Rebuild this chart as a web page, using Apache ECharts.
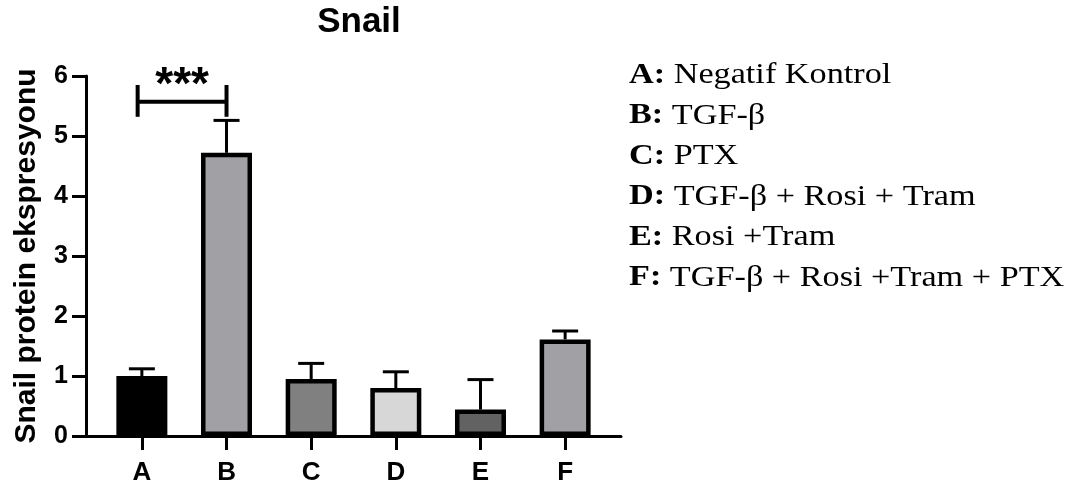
<!DOCTYPE html>
<html>
<head>
<meta charset="utf-8">
<script src="https://cdn.jsdelivr.net/npm/echarts@6/dist/echarts.min.js"></script>
<style>
html,body{margin:0;padding:0;background:#fff;}
#chart{width:1079px;height:488px;}
</style>
</head>
<body>
<div id="chart"></div>
<script>
// ---- data ----
var categories = ['A', 'B', 'C', 'D', 'E', 'F'];
var means = [1.0, 4.72, 0.95, 0.80, 0.44, 1.61];
var errUpper = [1.12, 5.26, 1.21, 1.07, 0.94, 1.75];
var barColors = ['#000000', '#a1a1a5', '#808080', '#d7d7d7', '#626262', '#a1a1a5'];
var yTicks = [0, 1, 2, 3, 4, 5, 6];
var bracket = { from: -0.05, to: 1.0, y: 5.57, top: 5.85, bottom: 5.32, label: '***', labelY: 5.93 };
var legendKeys = ['A:', 'B:', 'C:', 'D:', 'E:', 'F:'];
var legendTexts = ['Negatif Kontrol', 'TGF-\u03b2', 'PTX', 'TGF-\u03b2 + Rosi + Tram', 'Rosi +Tram', 'TGF-\u03b2 + Rosi +Tram + PTX'];

var chart = echarts.init(document.getElementById('chart'), null, { renderer: 'canvas' });
var idx = categories.map(function (c, i) { return i; });

var serif = '"Liberation Serif", "Times New Roman", serif';
var legendGraphics = legendKeys.map(function (k, i) {
  return {
    type: 'text',
    x: 629,
    y: 61 + 40.5 * i,
    scaleX: 1.18,
    style: {
      text: '{b|' + k + '} ' + legendTexts[i],
      font: '29px ' + serif,
      fill: '#000',
      verticalAlign: 'top',
      rich: {
        b: { font: 'bold 29px ' + serif, fill: '#000' }
      }
    }
  };
});

var sans = '"Liberation Sans", Arial, sans-serif';
var option = {
  backgroundColor: '#ffffff',
  animation: false,
  title: {
    text: 'Snail',
    left: 354,
    textAlign: 'center',
    top: 0,
    textStyle: { fontFamily: sans, fontWeight: 'bold', fontSize: 35, color: '#000' }
  },
  grid: { left: 86, right: 458, top: 76, bottom: 52, containLabel: false },
  xAxis: {
    type: 'value',
    min: -0.66,
    max: 5.66,
    splitLine: { show: false },
    axisLine: { show: true, onZero: false, lineStyle: { color: '#000', width: 3 } },
    axisTick: { show: true, length: 14, customValues: idx, lineStyle: { color: '#000', width: 3 } },
    axisLabel: {
      customValues: idx,
      margin: 24,
      formatter: function (v) { return categories[Math.round(v)]; },
      fontFamily: sans, fontWeight: 'bold', fontSize: 26, color: '#000'
    }
  },
  yAxis: {
    type: 'value',
    min: 0,
    max: 6,
    interval: 1,
    name: 'Snail protein ekspresyonu',
    nameLocation: 'middle',
    nameRotate: 90,
    nameGap: 44,
    nameTextStyle: { fontFamily: sans, fontWeight: 'bold', fontSize: 30, color: '#000' },
    splitLine: { show: false },
    axisLine: { show: true, onZero: false, lineStyle: { color: '#000', width: 3 } },
    axisTick: { show: true, length: 14, lineStyle: { color: '#000', width: 3 } },
    axisLabel: {
      margin: 18,
      formatter: function (v) { return yTicks.indexOf(v) >= 0 ? String(v) : ''; },
      fontFamily: sans, fontWeight: 'bold', fontSize: 25, color: '#000'
    }
  },
  series: [
    {
      type: 'custom',
      name: 'error',
      z: 1,
      data: idx.map(function (i) { return [i, means[i], errUpper[i]]; }),
      renderItem: function (params, api) {
        var x = api.value(0);
        var p0 = api.coord([x, api.value(1)]);
        var p1 = api.coord([x, api.value(2)]);
        var half = 13;
        return {
          type: 'group',
          children: [
            { type: 'line', shape: { x1: p0[0], y1: p0[1], x2: p1[0], y2: p1[1] }, style: { stroke: '#000', lineWidth: 3 } },
            { type: 'line', shape: { x1: p1[0] - half, y1: p1[1], x2: p1[0] + half, y2: p1[1] }, style: { stroke: '#000', lineWidth: 3 } }
          ]
        };
      }
    },
    {
      type: 'bar',
      name: 'mean',
      z: 2,
      barWidth: 51,
      data: idx.map(function (i) {
        return { value: [i, means[i]], itemStyle: { color: barColors[i], borderColor: '#000', borderWidth: 4.5 } };
      })
    },
    {
      type: 'custom',
      name: 'sig',
      z: 3,
      clip: false,
      data: [[bracket.from, bracket.to, bracket.y, bracket.top, bracket.bottom, bracket.labelY]],
      renderItem: function (params, api) {
        var a = api.coord([api.value(0), api.value(2)]);
        var b = api.coord([api.value(1), api.value(2)]);
        var at = api.coord([api.value(0), api.value(3)]);
        var ab = api.coord([api.value(0), api.value(4)]);
        var bt = api.coord([api.value(1), api.value(3)]);
        var bb = api.coord([api.value(1), api.value(4)]);
        var lab = api.coord([(api.value(0) + api.value(1)) / 2, api.value(5)]);
        return {
          type: 'group',
          children: [
            { type: 'line', shape: { x1: a[0], y1: a[1], x2: b[0], y2: b[1] }, style: { stroke: '#000', lineWidth: 4 } },
            { type: 'line', shape: { x1: at[0], y1: at[1], x2: ab[0], y2: ab[1] }, style: { stroke: '#000', lineWidth: 4 } },
            { type: 'line', shape: { x1: bt[0], y1: bt[1], x2: bb[0], y2: bb[1] }, style: { stroke: '#000', lineWidth: 4 } },
            { type: 'text', x: lab[0], y: lab[1] + 6, style: { text: bracket.label, align: 'center', verticalAlign: 'middle', font: 'bold 46px ' + sans, fill: '#000' } }
          ]
        };
      }
    }
  ],
  graphic: legendGraphics
};
chart.setOption(option);
</script>
</body>
</html>
